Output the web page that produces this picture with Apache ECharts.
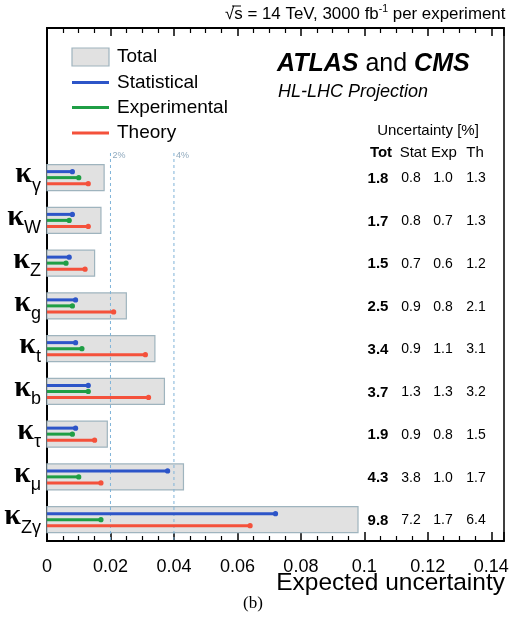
<!DOCTYPE html>
<html>
<head>
<meta charset="utf-8">
<script src="https://cdn.jsdelivr.net/npm/echarts@6/dist/echarts.min.js"></script>
<style>html,body{margin:0;padding:0;background:#fff;}#c{width:512px;height:635px;}</style>
</head>
<body>
<div id="c"></div>
<script>
// ---- data ----
const subscripts = ['γ', 'W', 'Z', 'g', 't', 'b', 'τ', 'μ', 'Zγ'];
const totalPct = [1.8, 1.7, 1.5, 2.5, 3.4, 3.7, 1.9, 4.3, 9.8];
const statPct  = [0.8, 0.8, 0.7, 0.9, 0.9, 1.3, 0.9, 3.8, 7.2];
const expPct   = [1.0, 0.7, 0.6, 0.8, 1.1, 1.3, 0.8, 1.0, 1.7];
const thPct    = [1.3, 1.3, 1.2, 2.1, 3.1, 3.2, 1.5, 1.7, 6.4];
const refLines = [0.02, 0.04];
const refLabels = ['2%', '4%'];
const tableHeaders = ['Tot', 'Stat', 'Exp', 'Th'];
const legendNames = ['Total', 'Statistical', 'Experimental', 'Theory'];
const xMin = 0, xMax = 0.144, xInterval = 0.02;

// ---- build ----
const FONT = '"Liberation Sans", Arial, Helvetica, sans-serif';
const C_BLUE = '#2d55c8', C_GREEN = '#1f9e45', C_RED = '#f4513b';
const C_FILL = '#e1e1e1', C_EDGE = '#9fb4be';
const nPad = 3; // empty rows above the first category (legend area)
const yCats = [];
for (let i = 0; i < nPad; i++) yCats.push('pad' + i);
subscripts.forEach(s => yCats.push(s));
const rowIdx = subscripts.map((_, i) => i + nPad);

const chart = echarts.init(document.getElementById('c'), null, {renderer: 'canvas'});

function fmtPct(v) { return v.toFixed(1); }

const tableX = [378, 411, 443, 476];

const option = {
  backgroundColor: '#fff',
  animation: false,
  grid: {left: 47, right: 8, top: 28, bottom: 94, show: true, borderColor: '#000', borderWidth: 1.5, backgroundColor: 'transparent'},
  xAxis: [{
    type: 'value', min: xMin, max: xMax, interval: xInterval, position: 'bottom',
    axisLine: {show: true, onZero: false, lineStyle: {color: '#000', width: 2}},
    axisTick: {show: true, inside: true, length: 9, lineStyle: {color: '#000', width: 1.5}},
    minorTick: {show: true, splitNumber: 4, length: 5, lineStyle: {color: '#000', width: 1.2}},
    splitLine: {show: false},
    axisLabel: {color: '#000', fontSize: 18, fontFamily: FONT, margin: 17, showMaxLabel: false,
      formatter: v => (Math.abs(v) < 1e-9 ? '0' : String(+v.toFixed(3)))}
  }, {
    type: 'value', min: xMin, max: xMax, interval: xInterval, position: 'top',
    axisLine: {show: true, onZero: false, lineStyle: {color: '#000', width: 2}},
    axisTick: {show: true, inside: true, length: 8, lineStyle: {color: '#000', width: 1.5}},
    minorTick: {show: true, splitNumber: 4, length: 5, lineStyle: {color: '#000', width: 1.2}},
    splitLine: {show: false},
    axisLabel: {show: false}
  }],
  yAxis: {
    type: 'category', data: yCats, inverse: true,
    axisLine: {show: true, onZero: false, lineStyle: {color: '#000', width: 2}},
    axisTick: {show: false},
    splitLine: {show: false},
    axisLabel: {
      margin: 6, interval: 0,
      formatter: (v, i) => (i < nPad ? '' : '{k|κ}{s|' + v + '}'),
      rich: {
        k: {fontFamily: '"Liberation Serif", "DejaVu Serif", serif', fontWeight: 'bold', fontSize: 30, color: '#000', padding: [0, 0, 6, 0]},
        s: {fontFamily: FONT, fontSize: 18, color: '#000', padding: [16, 0, 0, 0]}
      }
    }
  },
  graphic: [
    // header
    {type: 'text', x: 225, y: 14, style: {
      text: '{n|√s = 14 TeV, 3000 fb}{sup|-1}{n| per experiment}', align: 'left', verticalAlign: 'middle',
      rich: {n: {fontFamily: FONT, fontSize: 16.9, fill: '#000'}, sup: {fontFamily: FONT, fontSize: 10.5, fill: '#000', padding: [0, 0, 10, 0]}}
    }},
    {type: 'line', shape: {x1: 232, y1: 6, x2: 241, y2: 6}, style: {stroke: '#000', lineWidth: 1}},
    {type: 'text', x: 277, y: 64, style: {
      text: '{b|ATLAS}{r| and }{b|CMS}', align: 'left', verticalAlign: 'middle',
      rich: {b: {fontFamily: FONT, fontSize: 25, fontWeight: 'bold', fontStyle: 'italic', fill: '#000'},
             r: {fontFamily: FONT, fontSize: 25, fill: '#000'}}
    }},
    {type: 'text', x: 278, y: 92, style: {text: 'HL-LHC Projection', font: 'italic 18px ' + FONT, fill: '#000', align: 'left', verticalAlign: 'middle'}},
    // legend
    {type: 'rect', shape: {x: 72, y: 48, width: 37, height: 18}, style: {fill: C_FILL, stroke: C_EDGE, lineWidth: 1.2}},
    {type: 'line', shape: {x1: 72, y1: 82.5, x2: 109, y2: 82.5}, style: {stroke: C_BLUE, lineWidth: 3}},
    {type: 'line', shape: {x1: 72, y1: 107.5, x2: 109, y2: 107.5}, style: {stroke: C_GREEN, lineWidth: 3}},
    {type: 'line', shape: {x1: 72, y1: 133, x2: 109, y2: 133}, style: {stroke: C_RED, lineWidth: 3}},
    ...legendNames.map((n, i) => ({type: 'text', x: 117, y: [57, 82.5, 107.5, 133][i],
      style: {text: n, font: '19px ' + FONT, fill: '#000', align: 'left', verticalAlign: 'middle'}})),
    // table header
    {type: 'text', x: 428, y: 131, style: {text: 'Uncertainty [%]', font: '15px ' + FONT, fill: '#000', align: 'center', verticalAlign: 'middle'}},
    ...tableHeaders.map((h, i) => ({type: 'text', x: [381, 413, 444, 475][i], y: 153,
      style: {text: h, font: (i === 0 ? 'bold ' : '') + '15px ' + FONT, fill: '#000', align: 'center', verticalAlign: 'middle'}})),
    // x axis name and caption
    {type: 'text', x: 505, y: 583, style: {text: 'Expected uncertainty', font: '24.5px ' + FONT, fill: '#000', align: 'right', verticalAlign: 'middle'}},
    {type: 'text', x: 253, y: 604, style: {text: '(b)', font: '17px "Liberation Serif", "Times New Roman", serif', fill: '#000', align: 'center', verticalAlign: 'middle'}}
  ],
  series: [
    {
      type: 'custom', name: 'Total', xAxisIndex: 0, silent: true,
      data: totalPct.map((v, i) => [v / 100, rowIdx[i]]),
      encode: {x: 0, y: 1},
      renderItem: (params, api) => {
        const idx = api.value(1);
        const p0 = api.coord([0, idx]);
        const p1 = api.coord([api.value(0), idx]);
        return {type: 'rect', shape: {x: p0[0], y: p0[1] - 13, width: p1[0] - p0[0], height: 26},
          style: {fill: C_FILL, stroke: C_EDGE, lineWidth: 1.2}};
      }
    },
    {
      type: 'custom', name: 'refs', xAxisIndex: 0, silent: true,
      data: refLines.map((v, i) => [v, yCats.length - 1, i]),
      encode: {x: 0, y: 1},
      renderItem: (params, api) => {
        const p = api.coord([api.value(0), api.value(1)]);
        const band = api.size([0, 1])[1];
        const bottom = p[1] + band / 2;
        return {type: 'group', children: [
          {type: 'line', shape: {x1: p[0], y1: 153, x2: p[0], y2: bottom}, style: {stroke: '#7fb3d8', lineWidth: 1, lineDash: [3, 3]}},
          {type: 'text', x: p[0] + 2, y: 156, style: {text: refLabels[api.value(2)], font: '9px ' + FONT, fill: '#8fa9bd', align: 'left', verticalAlign: 'middle'}}
        ]};
      }
    },
    ...[[statPct, C_BLUE, -6, 'Statistical'], [expPct, C_GREEN, 0, 'Experimental'], [thPct, C_RED, 6, 'Theory']].map(([arr, col, off, name]) => ({
      type: 'custom', name: name, xAxisIndex: 0, silent: true,
      data: arr.map((v, i) => [v / 100, rowIdx[i]]),
      encode: {x: 0, y: 1},
      renderItem: (params, api) => {
        const idx = api.value(1);
        const p0 = api.coord([0, idx]);
        const p1 = api.coord([api.value(0), idx]);
        const y = p0[1] + off;
        return {type: 'group', children: [
          {type: 'line', shape: {x1: p0[0], y1: y, x2: p1[0], y2: y}, style: {stroke: col, lineWidth: 3}},
          {type: 'circle', shape: {cx: p1[0], cy: y, r: 2.6}, style: {fill: col}}
        ]};
      }
    })),
    {
      type: 'custom', name: 'table', xAxisIndex: 0, silent: true,
      data: totalPct.map((v, i) => [0, rowIdx[i], v, statPct[i], expPct[i], thPct[i]]),
      encode: {x: 0, y: 1},
      renderItem: (params, api) => {
        const y = api.coord([0, api.value(1)])[1] + 1;
        const vals = [api.value(2), api.value(3), api.value(4), api.value(5)];
        return {type: 'group', children: vals.map((v, j) => ({
          type: 'text', x: tableX[j], y: y,
          style: {text: fmtPct(v), font: (j === 0 ? 'bold 15px ' : '14px ') + FONT, fill: '#000', align: 'center', verticalAlign: 'middle'}
        }))};
      }
    }
  ]
};
chart.setOption(option);
</script>
</body>
</html>
